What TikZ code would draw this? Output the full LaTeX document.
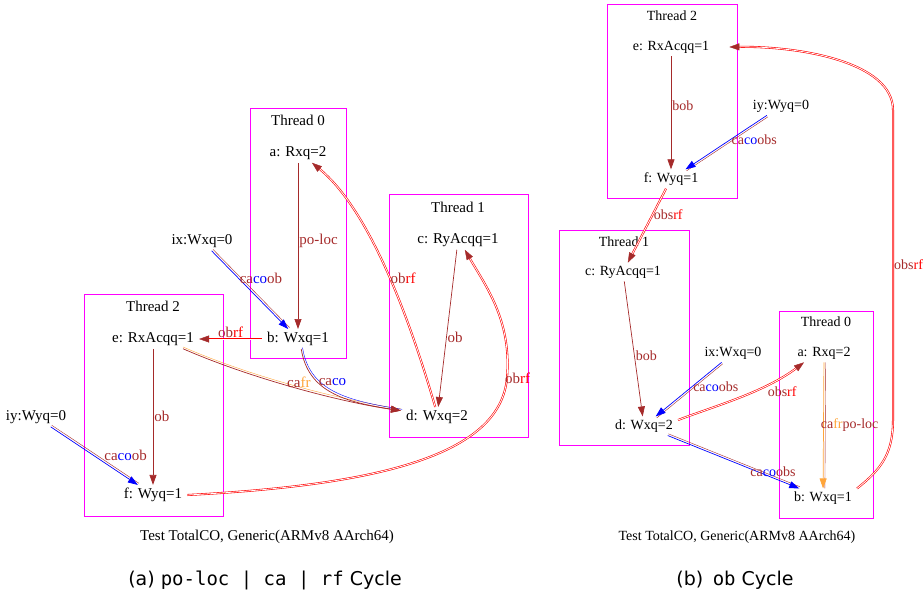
\documentclass[tikz,border=0pt]{standalone}
\usepackage{fontspec}
\setmainfont{Liberation Serif}
\setsansfont{DejaVu Sans}
\setmonofont{DejaVu Sans Mono}
\usetikzlibrary{arrows.meta}

\definecolor{brn}{HTML}{A52A2A}
\definecolor{mag}{HTML}{FF00FF}
\definecolor{orng}{HTML}{FFA53A}

\newcommand{\cb}[1]{\textcolor{brn}{#1}}
\newcommand{\cbl}[1]{\textcolor{blue}{#1}}
\newcommand{\crd}[1]{\textcolor{red}{#1}}
\newcommand{\cor}[1]{\textcolor{orng}{#1}}

\tikzset{
  ev/.style={inner xsep=5pt, inner ysep=3pt},
  thr/.style={inner sep=1pt},
  tbox/.style={draw=mag, line width=0.9pt},
  lab/.style={inner sep=1pt},
  eg/.style={brn, line width=0.7pt, -{Triangle[length=10pt,width=7pt]}},
  twin/.style 2 args={preaction={draw=#1, -, transform canvas={shift={#2}}}},
  rfe/.style={brn, dash pattern=on 0pt off 2000pt, -{Triangle[length=10pt,width=7pt]},
    preaction={draw=red, solid, -, line width=0.6pt, double=white, double distance=0.8pt, shorten >=9pt}},
}

\begin{document}
\begin{tikzpicture}[x=1pt, y=-1pt]
\useasboundingbox (0,0) rectangle (924,600);

% (a) po-loc | ca | rf cycle
\begin{scope}[font=\fontsize{15}{18}\selectfont]
  \draw[tbox] (250,108) rectangle (346,358);
  \draw[tbox] (389,194) rectangle (528,437);
  \draw[tbox] (84,294) rectangle (223,516);
  \node[thr] (lt0) at (298,120) {Thread 0};
  \node[thr] (lt1) at (458,207) {Thread 1};
  \node[thr] (lt2) at (153,306) {Thread 2};

  \node[ev] (la) at (298,153) {a: Rxq=2};
  \node[ev] (lb) at (298,339) {b: Wxq=1};
  \node[ev] (lc) at (458,240) {c: RyAcqq=1};
  \node[ev] (ld) at (437,417) {d: Wxq=2};
  \node[ev] (le) at (153,339) {e: RxAcqq=1};
  \node[ev] (lf) at (153,495) {f: Wyq=1};
  \node[ev] (lix) at (202,241) {ix:Wxq=0};
  \node[ev] (liy) at (36,417) {iy:Wyq=0};

  % program order
  \draw[eg] (la) -- (lb) node[lab, pos=0.47, right] {po-loc};
  \draw[eg] (le) -- (lf) node[lab, midway, right] {ob};
  \draw[eg] (lc) -- (ld) node[lab, pos=0.56, right] {ob};

  % coherence and from-read
  \draw[eg, blue, twin={brn}{(1.4,-1.4)}] (lix) -- (lb) node[lab, pos=0.35, right] {\cb{ca}\cbl{co}\cb{ob}};
  \draw[eg, blue, twin={brn}{(1,-1.6)}] (liy) -- (lf) node[lab, pos=0.6, above right] {\cb{ca}\cbl{co}\cb{ob}};
  \draw[eg, twin={orng}{(0,-1.8)}] (le.-18) .. controls (250,378) and (340,402) .. (ld.170) node[lab, pos=0.52, above] {\cb{ca}\cor{fr}};
  \draw[eg, twin={blue}{(1.3,-1.3)}] (lb.-72) .. controls (308,392) and (345,402) .. (ld.170) node[lab, pos=0.33, right] {\cb{ca}\cbl{co}};

  % reads-from
  \draw[rfe] (lb) -- (le) node[lab, midway, above] {\cb{ob}\crd{rf}};
  \draw[rfe] (ld.100) .. controls (410,320) and (370,210) .. (la.-35) node[lab, pos=0.47, right] {\cb{ob}\crd{rf}};
  \draw[rfe] (lf.east) .. controls (380,485) and (500,455) .. (507,378) node[lab, right=-3pt] {\cb{ob}\crd{rf}}
    .. controls (512,320) and (485,285) .. (lc.-55);

  \node (lcap) at (267,537) {Test TotalCO, Generic(ARMv8 AArch64)};
\end{scope}

% (b) ob cycle
\begin{scope}[font=\fontsize{14}{17}\selectfont]
  \draw[tbox] (607,4) rectangle (737,198);
  \draw[tbox] (559,230) rectangle (689,445);
  \draw[tbox] (779,311) rectangle (873,518);
  \node[thr] (rt2) at (672,16) {Thread 2};
  \node[thr] (rt1) at (624,242) {Thread 1};
  \node[thr] (rt0) at (826,322) {Thread 0};

  \node[ev] (re) at (671,47) {e: RxAcqq=1};
  \node[ev] (rf) at (671,179) {f: Wyq=1};
  \node[ev] (riy) at (781,106) {iy:Wyq=0};
  \node[ev] (rc) at (623,272) {c: RyAcqq=1};
  \node[ev] (rd) at (644,426) {d: Wxq=2};
  \node[ev] (rix) at (733,353) {ix:Wxq=0};
  \node[ev] (ra) at (824,353) {a: Rxq=2};
  \node[ev] (rb) at (823,498) {b: Wxq=1};

  % barrier order
  \draw[eg] (re) -- (rf) node[lab, pos=0.44, right] {bob};
  \draw[eg] (rc) -- (rd) node[lab, pos=0.55, right] {bob};

  % coherence
  \draw[eg, blue, twin={brn}{(1,1.5)}] (riy) -- (rf) node[lab, pos=0.45, right] {\cb{ca}\cbl{co}\cb{obs}};
  \draw[eg, blue, twin={brn}{(1.2,1.4)}] (rix) -- (rd) node[lab, pos=0.45, right] {\cb{ca}\cbl{co}\cb{obs}};
  \draw[eg, blue, twin={brn}{(0.7,-1.7)}] (rd) -- (rb) node[lab, pos=0.8, above] {\cb{ca}\cbl{co}\cb{obs}};
  \draw[eg, orng, twin={brn}{(1.8,0)}] (ra) -- (rb) node[lab, midway, right=-4pt] {\cb{ca}\cor{fr}\cb{po-loc}};

  % reads-from
  \draw[rfe] (rf) -- (rc) node[lab, pos=0.35, right] {\cb{obs}\crd{rf}};
  \draw[rfe] (rd.10) .. controls (715,406) and (765,392) .. (ra.-155) node[lab, pos=0.7, below right] {\cb{obs}\crd{rf}};
  \draw[rfe] (rb.north east) .. controls (880,470) and (893,455) .. (893,420)
    -- (893,110) node[lab, midway, right] {\cb{obs}\crd{rf}}
    .. controls (893,62) and (800,46) .. ([xshift=15]re.east);

  \node (rcap) at (737,537) {Test TotalCO, Generic(ARMv8 AArch64)};
\end{scope}

% sub-captions
\node[font=\sffamily\fontsize{19}{22}\selectfont] (lsub) at (265,580) {(a) \texttt{po-loc | ca | rf} Cycle};
\node[font=\sffamily\fontsize{19}{22}\selectfont] (rsub) at (735,580) {(b)\enspace\texttt{ob} Cycle};
\end{tikzpicture}
\end{document}
